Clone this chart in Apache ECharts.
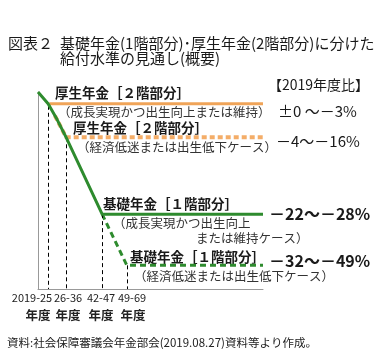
<!DOCTYPE html>
<html>
<head>
    <meta charset="utf-8">
    <title>給付水準の見通し</title>
    <script src="https://cdn.jsdelivr.net/npm/echarts@6/dist/echarts.min.js"></script>
    <style>
        html, body { margin: 0; padding: 0; background: #fff; }
        #main { width: 386px; height: 352px; }
    </style>
</head>
<body>
    <div id="main"></div>
    <script type="text/javascript">
        // 模式図の値 (2019年度 = 100 の指数、横軸は期間の目安)
        var basicHighX = [0, 4.5, 8.5, 12.5, 19.5, 28.5, 100];
        var basicHighY = [100, 94, 86, 77, 60, 38, 38];
        var basicLowX = [28.5, 39.5, 100];
        var basicLowY = [38, 12, 12];
        var welfareHighX = [5, 100];
        var welfareHighY = [94, 94];
        var welfareLowX = [7.5, 12.5, 100];
        var welfareLowY = [88, 77, 77];
        var dropX = [4.5, 12.5, 28.5, 39.5];
        var dropY = [93, 77, 38, 12];
        var periodLabels = ['2019-25', '26-36', '42-47', '49-69'];
        var changeLabels = ['±0 ～－3%', '－4～－16%', '－22～－28%', '－32～－49%'];

        var FONT = '"Noto Sans CJK JP", "Noto Sans", sans-serif';
        var GREEN = '#2e8b2e';

        function pairs(xs, ys) {
            return xs.map(function (x, i) { return [x, ys[i]]; });
        }

        function txt(text, x, y, size, weight, color, align) {
            return {
                type: 'text', x: x, y: y, silent: true,
                style: {
                    text: text, fill: color || '#1a1a1a',
                    font: (weight || 'normal') + ' ' + size + 'px ' + FONT,
                    align: align || 'left', verticalAlign: 'middle'
                }
            };
        }

        function endLbl(text, dx, dy, bold) {
            return {
                show: true, formatter: text, distance: 0, offset: [dx, dy],
                align: 'left', verticalAlign: 'middle',
                fontFamily: FONT, color: '#1a1a1a',
                fontSize: bold ? 16 : 15, fontWeight: bold ? 'bold' : 'normal'
            };
        }

        var chart = echarts.init(document.getElementById('main'));

        var drops = dropX.map(function (x, i) {
            return [{ coord: [x, dropY[i]] }, { coord: [x, 0] }];
        });

        // 期間ラベルの中心位置(px)
        var labelX1 = [32, 68, 101, 132];
        var labelX2 = [38, 68, 101, 133];

        var graphics = [
            txt('図表２', 8, 43, 15),
            txt('基礎年金(1階部分)･厚生年金(2階部分)に分けた', 60, 43, 15),
            txt('給付水準の見通し(概要)', 60, 58, 15),
            txt('【2019年度比】', 268, 85, 14),
            txt('厚生年金［２階部分］', 55, 93, 13.5, 'bold'),
            txt('（成長実現かつ出生向上または維持）', 58, 112, 12.5, 'normal', '#333'),
            txt('厚生年金［２階部分］', 73, 128, 13.5, 'bold'),
            txt('（経済低迷または出生低下ケース）', 77, 147, 12.5, 'normal', '#333'),
            txt('基礎年金［１階部分］', 103, 204, 13.5, 'bold'),
            txt('（成長実現かつ出生向上', 113, 223, 12.5, 'normal', '#333'),
            txt('または維持ケース）', 196, 238, 12.5, 'normal', '#333'),
            txt('基礎年金［１階部分］', 130, 257, 13.5, 'bold'),
            txt('（経済低迷または出生低下ケース）', 134, 276, 12.5, 'normal', '#333'),
            txt('資料:社会保障審議会年金部会(2019.08.27)資料等より作成。', 7, 343, 11.5, 'normal', '#222')
        ];
        periodLabels.forEach(function (t, i) {
            graphics.push(txt(t, labelX1[i], 298, 11, 'normal', '#222', 'center'));
            graphics.push(txt('年度', labelX2[i], 315, 12.5, 'bold', '#222', 'center'));
        });

        var option = {
            animation: false,
            grid: { left: 38, right: 123, top: 92, bottom: 63 },
            xAxis: {
                type: 'value', min: 0, max: 100,
                axisLine: { show: true, lineStyle: { color: '#999', width: 1 } },
                axisTick: { show: false }, axisLabel: { show: false }, splitLine: { show: false }
            },
            yAxis: {
                type: 'value', min: 0, max: 100,
                axisLine: { show: true, lineStyle: { color: '#999', width: 1 } },
                axisTick: { show: false }, axisLabel: { show: false }, splitLine: { show: false }
            },
            graphic: graphics,
            series: [
                {
                    name: '厚生年金(経済低迷)', type: 'line', z: 2, symbol: 'none',
                    data: pairs(welfareLowX, welfareLowY),
                    lineStyle: { color: '#f4ad68', width: 4, type: [5, 3] },
                    endLabel: endLbl(changeLabels[1], 13, 4, false)
                },
                {
                    name: '厚生年金(成長実現)', type: 'line', z: 3, symbol: 'none',
                    data: pairs(welfareHighX, welfareHighY),
                    lineStyle: { color: '#f0a458', width: 3 },
                    endLabel: endLbl(changeLabels[0], 15, 7, false)
                },
                {
                    name: '基礎年金(経済低迷)', type: 'line', z: 4, symbol: 'none',
                    data: pairs(basicLowX, basicLowY),
                    lineStyle: { color: GREEN, width: 3, type: [6, 4] },
                    endLabel: endLbl(changeLabels[3], 6, -4, true)
                },
                {
                    name: '基礎年金(成長実現)', type: 'line', z: 5, symbol: 'none',
                    data: pairs(basicHighX, basicHighY),
                    lineStyle: { color: GREEN, width: 3 },
                    endLabel: endLbl(changeLabels[2], 6, 0, true),
                    markLine: {
                        silent: true, symbol: 'none', label: { show: false },
                        lineStyle: { color: '#000', width: 1, type: [4, 3] },
                        data: drops
                    }
                }
            ]
        };

        chart.setOption(option);
    </script>
</body>
</html>
